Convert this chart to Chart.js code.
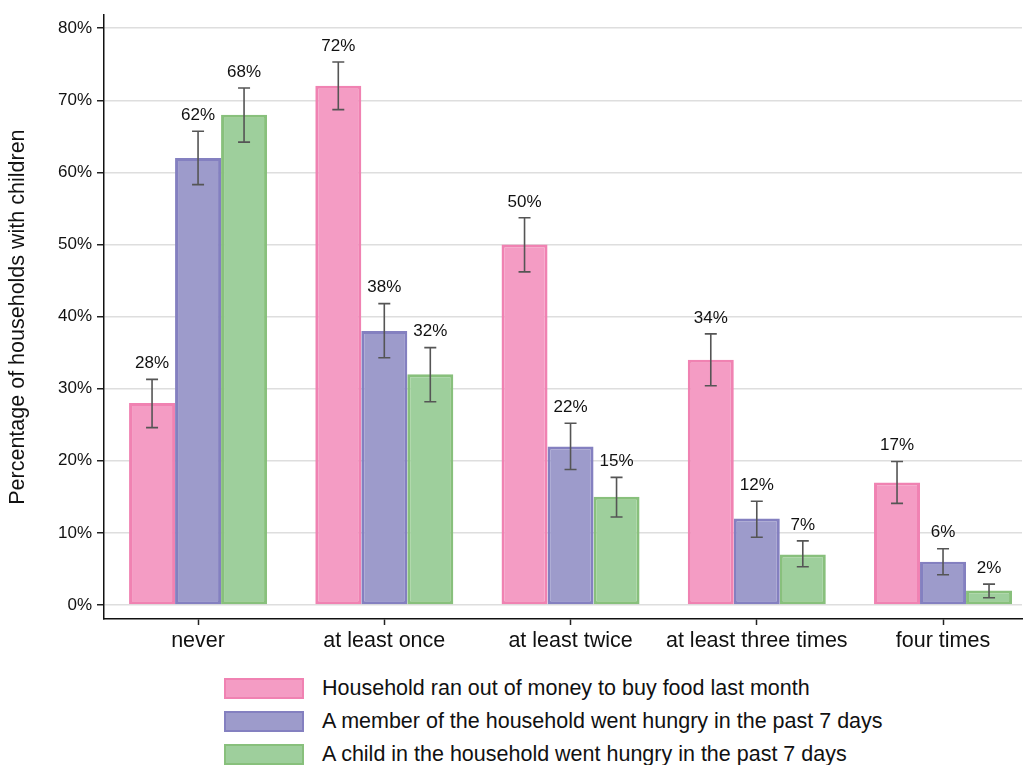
<!DOCTYPE html>
<html>
<head>
<meta charset="utf-8">
<script src="https://cdn.jsdelivr.net/npm/chart.js@4"></script>
<style>
    html, body { margin: 0; padding: 0; background: #fff; }
    body { width: 1027px; height: 765px; position: relative; overflow: hidden;
           font-family: "Liberation Sans", Arial, sans-serif; }
    #wrap { position: absolute; left: 0; top: 0; width: 1027px; height: 665px; }
    #legend { position: absolute; left: 224px; top: 672px; }
    .row { display: flex; align-items: center; height: 33px; font-size: 21.5px; color: #111; }
    .sw { width: 76px; height: 17px; border: 2px solid; margin-right: 18px; }
</style>
</head>
<body>
<div id="wrap"><canvas id="chart"></canvas></div>
<div id="legend"></div>
<script>
/* Household food insecurity — grouped bars with error bars */

const categories = ['never', 'at least once', 'at least twice', 'at least three times', 'four times'];
const seriesNames = [
    'Household ran out of money to buy food last month',
    'A member of the household went hungry in the past 7 days',
    'A child in the household went hungry in the past 7 days',
];
const ranOutOfMoney = [28, 72, 50, 34, 17];
const memberHungry = [62, 38, 22, 12, 6];
const childHungry = [68, 32, 15, 7, 2];
// confidence interval ends, per series
const ranOutLow = [24.6, 68.7, 46.2, 30.4, 14.1];
const ranOutHigh = [31.3, 75.3, 53.7, 37.6, 19.9];
const memberLow = [58.3, 34.3, 18.8, 9.4, 4.2];
const memberHigh = [65.7, 41.8, 25.2, 14.4, 7.8];
const childLow = [64.2, 28.2, 12.2, 5.3, 1.0];
const childHigh = [71.7, 35.7, 17.7, 8.9, 2.9];
const yTicks = [0, 10, 20, 30, 40, 50, 60, 70, 80];

const fills = ['#f49cc4', '#9d9bcb', '#9ecf9c'];
const borders = ['#f082b2', '#8480c0', '#88c07c'];
const lows = [ranOutLow, memberLow, childLow];
const highs = [ranOutHigh, memberHigh, childHigh];

const FONT = '"Liberation Sans", Arial, sans-serif';

const errorBars = {
    id: 'errorBars',
    afterDatasetsDraw(chart) {
        const ctx = chart.ctx;
        const y = chart.scales.y;
        ctx.save();
        chart.data.datasets.forEach((ds, di) => {
            const meta = chart.getDatasetMeta(di);
            meta.data.forEach((bar, i) => {
                const top = y.getPixelForValue(highs[di][i]);
                const bot = y.getPixelForValue(lows[di][i]);
                ctx.strokeStyle = '#555';
                ctx.lineWidth = 1.6;
                ctx.beginPath();
                ctx.moveTo(bar.x, top); ctx.lineTo(bar.x, bot);
                ctx.moveTo(bar.x - 6, top); ctx.lineTo(bar.x + 6, top);
                ctx.moveTo(bar.x - 6, bot); ctx.lineTo(bar.x + 6, bot);
                ctx.stroke();
                ctx.fillStyle = '#111';
                ctx.font = '17px ' + FONT;
                ctx.textAlign = 'center';
                ctx.textBaseline = 'middle';
                ctx.fillText(ds.data[i] + '%', bar.x, top - 16);
            });
        });
        ctx.restore();
    },
};

const chart = new Chart(document.getElementById('chart'), {
    type: 'bar',
    data: {
        labels: categories,
        datasets: [ranOutOfMoney, memberHungry, childHungry].map((d, i) => ({
            label: seriesNames[i],
            data: d,
            backgroundColor: fills[i],
            borderColor: borders[i],
            borderWidth: 3,
            borderSkipped: false,
            categoryPercentage: 0.741,
            barPercentage: 1,
        })),
    },
    options: {
        responsive: true,
        maintainAspectRatio: false,
        animation: false,
        layout: { padding: { top: 14, right: 5, left: 0, bottom: 0 } },
        plugins: {
            legend: { display: false },
            tooltip: { enabled: false },
        },
        scales: {
            x: {
                offset: true,
                grid: { display: true, drawOnChartArea: false, offset: false, tickLength: 6, tickColor: '#222', tickWidth: 1.5 },
                border: { color: '#111', width: 1.5 },
                ticks: { color: '#111', font: { family: FONT, size: 21.5 }, padding: 3, maxRotation: 0, autoSkip: false },
                afterFit(scale) { scale.height = 46; },
                // spread the groups the way the original plot does
                afterUpdate(scale) {
                    scale._startValue = -0.505;
                    scale._valueRange = 4.929;
                },
            },
            y: {
                min: -1.94,
                max: 81.8,
                afterBuildTicks(scale) { scale.ticks = yTicks.map(v => ({ value: v })); },
                grid: { color: '#dedede', lineWidth: 1.5, tickLength: 7, tickColor: '#222', tickWidth: 1.5 },
                border: { color: '#111', width: 1.5 },
                ticks: { color: '#111', font: { family: FONT, size: 17 }, padding: 5, callback: v => v + '%' },
                title: { display: true, text: 'Percentage of households with children', color: '#111',
                         font: { family: FONT, size: 21.5 }, padding: { top: 5, bottom: 0 } },
                afterFit(scale) { scale.width = 104; },
            },
        },
    },
    plugins: [errorBars],
});

const legend = document.getElementById('legend');
seriesNames.forEach((name, i) => {
    const row = document.createElement('div');
    row.className = 'row';
    const sw = document.createElement('div');
    sw.className = 'sw';
    sw.style.background = fills[i];
    sw.style.borderColor = borders[i];
    const txt = document.createElement('span');
    txt.textContent = name;
    row.appendChild(sw);
    row.appendChild(txt);
    legend.appendChild(row);
});
</script>
</body>
</html>
